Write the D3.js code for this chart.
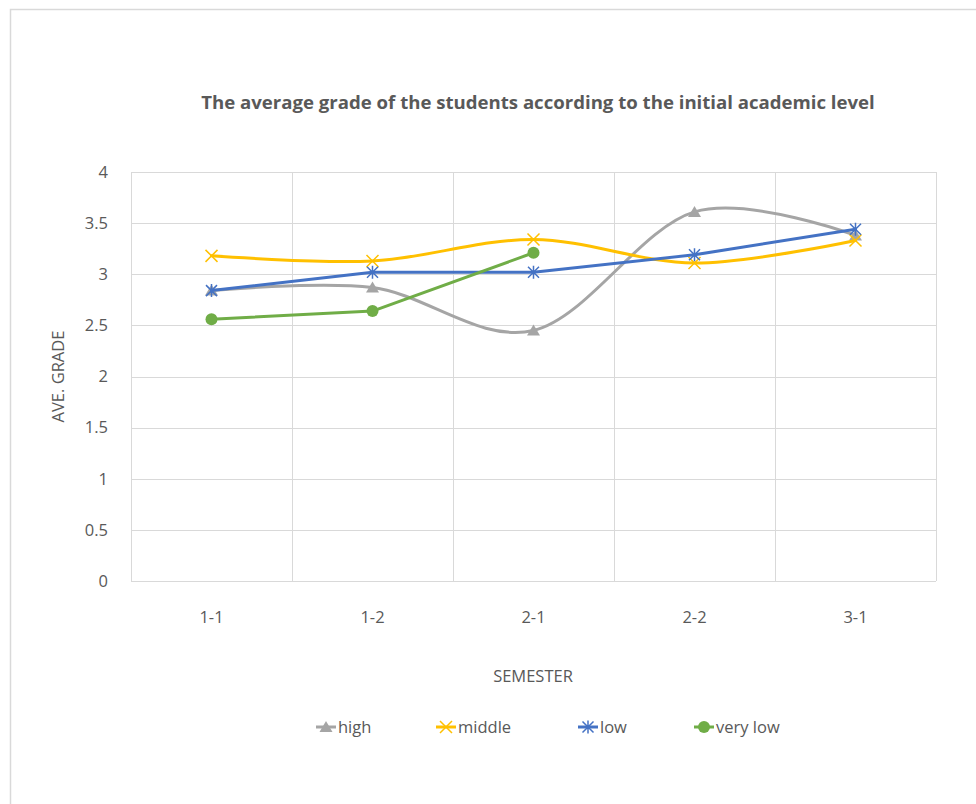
<!DOCTYPE html>
<html>
<head>
<meta charset="utf-8">
<script src="https://cdn.jsdelivr.net/npm/d3@7"></script>
<style>
  html, body { margin: 0; padding: 0; background: #fff; }
  svg { display: block; font-family: "Open Sans", Lato, sans-serif; }
</style>
</head>
<body>
<svg id="chart" width="976" height="804"></svg>
<script>
// Semesters along the x axis
const semesters = ["1-1", "1-2", "2-1", "2-2", "3-1"];
// Average grade per initial academic level
const highValues = [2.84, 2.87, 2.45, 3.61, 3.38];
const middleValues = [3.18, 3.13, 3.34, 3.11, 3.33];
const lowValues = [2.84, 3.02, 3.02, 3.19, 3.44];
const veryLowValues = [2.56, 2.64, 3.21];
const yTicks = [0, 0.5, 1, 1.5, 2, 2.5, 3, 3.5, 4];
const seriesNames = ["high", "middle", "low", "very low"];

const series = [
  { name: seriesNames[0], values: highValues, color: "#A5A5A5", marker: "triangle", smooth: true },
  { name: seriesNames[1], values: middleValues, color: "#FFC000", marker: "x", smooth: true },
  { name: seriesNames[2], values: lowValues, color: "#4472C4", marker: "star", smooth: false },
  { name: seriesNames[3], values: veryLowValues, color: "#70AD47", marker: "circle", smooth: false }
];

const svg = d3.select("#chart");
const textColor = "#595959";
const gridColor = "#D9D9D9";
const labelSize = 16.5;

// Outer chart frame
svg.append("rect")
  .attr("x", 10.5).attr("y", 9.5)
  .attr("width", 1000).attr("height", 1000)
  .attr("fill", "none").attr("stroke", "#D9D9D9").attr("stroke-width", 1.5);

const plot = { left: 131, right: 936, top: 172, bottom: 581 };

const x = d3.scaleBand().domain(semesters).range([plot.left, plot.right]);
const y = d3.scaleLinear().domain([0, 4]).range([plot.bottom, plot.top]);
const cx = d => x(d) + x.bandwidth() / 2;

// Horizontal gridlines
svg.append("g").selectAll("line").data(yTicks).join("line")
  .attr("x1", plot.left).attr("x2", plot.right)
  .attr("y1", d => Math.round(y(d)) + 0.5).attr("y2", d => Math.round(y(d)) + 0.5)
  .attr("stroke", gridColor).attr("stroke-width", 1);

// Vertical gridlines at category boundaries
const bounds = semesters.map(s => x(s)).concat([plot.right]);
svg.append("g").selectAll("line").data(bounds).join("line")
  .attr("x1", d => Math.round(d) + 0.5).attr("x2", d => Math.round(d) + 0.5)
  .attr("y1", plot.top).attr("y2", plot.bottom)
  .attr("stroke", gridColor).attr("stroke-width", 1);

// Y tick labels
svg.append("g").selectAll("text").data(yTicks).join("text")
  .attr("x", 108).attr("y", d => y(d)).attr("dy", "0.35em")
  .attr("text-anchor", "end").attr("fill", textColor).attr("font-size", labelSize)
  .text(d => d);

// X tick labels
svg.append("g").selectAll("text").data(semesters).join("text")
  .attr("x", d => cx(d)).attr("y", 617).attr("dy", "0.35em")
  .attr("text-anchor", "middle").attr("fill", textColor).attr("font-size", labelSize)
  .text(d => d);

// Axis titles
svg.append("text")
  .attr("transform", `translate(58,${(plot.top + plot.bottom) / 2}) rotate(-90)`)
  .attr("text-anchor", "middle").attr("dy", "0.35em")
  .attr("fill", textColor).attr("font-size", labelSize)
  .text("AVE. GRADE");
svg.append("text")
  .attr("x", 533).attr("y", 676).attr("dy", "0.35em")
  .attr("text-anchor", "middle").attr("fill", textColor).attr("font-size", labelSize)
  .text("SEMESTER");

// Chart title
svg.append("text")
  .attr("x", 538).attr("y", 102).attr("dy", "0.35em")
  .attr("text-anchor", "middle").attr("fill", textColor)
  .attr("font-size", 18.6).attr("font-weight", "bold")
  .text("The average grade of the students according to the initial academic level");

// Marker drawing
function drawMarker(g, type, color, px, py) {
  if (type === "triangle") {
    g.append("path")
      .attr("d", `M${px},${py - 6}L${px + 6.5},${py + 5}L${px - 6.5},${py + 5}Z`)
      .attr("fill", color);
  } else if (type === "x") {
    g.append("path")
      .attr("d", `M${px - 6},${py - 6}L${px + 6},${py + 6}M${px - 6},${py + 6}L${px + 6},${py - 6}`)
      .attr("stroke", color).attr("stroke-width", 1.5).attr("fill", "none");
  } else if (type === "star") {
    g.append("path")
      .attr("d", `M${px - 5.5},${py - 5.5}L${px + 5.5},${py + 5.5}M${px - 5.5},${py + 5.5}L${px + 5.5},${py - 5.5}M${px},${py - 6.5}L${px},${py + 6.5}`)
      .attr("stroke", color).attr("stroke-width", 1.5).attr("fill", "none");
  } else {
    g.append("circle").attr("cx", px).attr("cy", py).attr("r", 6).attr("fill", color);
  }
}

// Series lines and markers
series.forEach(s => {
  const pts = s.values.map((v, i) => [cx(semesters[i]), y(v)]);
  const line = d3.line().curve(s.smooth ? d3.curveCatmullRom.alpha(0) : d3.curveLinear);
  const g = svg.append("g");
  g.append("path").attr("d", line(pts))
    .attr("fill", "none").attr("stroke", s.color).attr("stroke-width", 3)
    .attr("stroke-linecap", "round").attr("stroke-linejoin", "round");
  pts.forEach(p => drawMarker(g, s.marker, s.color, p[0], p[1]));
});

// Legend
const legendX = [316, 436, 578, 694];
const legendY = 727;
series.forEach((s, i) => {
  const g = svg.append("g");
  g.append("line")
    .attr("x1", legendX[i]).attr("x2", legendX[i] + 20)
    .attr("y1", legendY).attr("y2", legendY)
    .attr("stroke", s.color).attr("stroke-width", 3);
  drawMarker(g, s.marker, s.color, legendX[i] + 10, legendY);
  g.append("text")
    .attr("x", legendX[i] + 22).attr("y", legendY).attr("dy", "0.35em")
    .attr("fill", textColor).attr("font-size", labelSize)
    .text(s.name);
});
</script>
</body>
</html>
